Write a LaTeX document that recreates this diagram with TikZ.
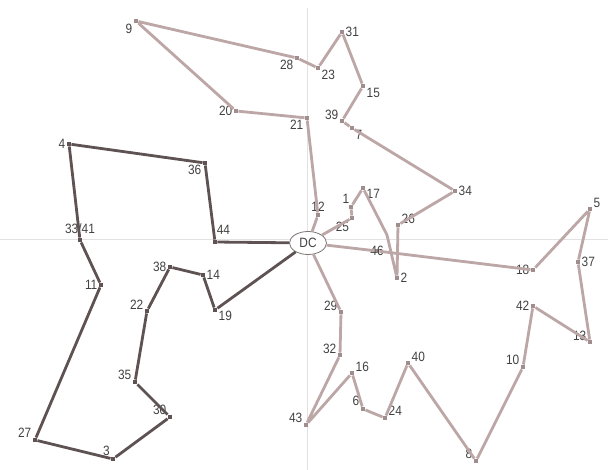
\documentclass[tikz,border=0pt]{standalone}
\usepackage{fontspec}
\setmainfont{Liberation Sans}
\newfontfamily\lblfont{Liberation Sans}[FakeStretch=0.88]
\usetikzlibrary{shapes.geometric}
\definecolor{lightc}{RGB}{188,166,166}
\definecolor{darkc}{RGB}{94,82,82}
\definecolor{axisc}{RGB}{226,226,226}
\definecolor{textc}{RGB}{66,66,66}
\tikzset{
  stopl/.style = {rectangle, fill=lightc!85!black, minimum size=4.5pt, inner sep=0pt},
  stopd/.style = {rectangle, fill=darkc, minimum size=4.5pt, inner sep=0pt},
  lbl/.style   = {font=\lblfont\fontsize{13.5}{14}\selectfont, text=textc, inner sep=1pt},
  depot/.style = {ellipse, draw=darkc!80, thick, fill=white, minimum width=37pt,
                  minimum height=23pt, inner sep=0pt, font=\lblfont\fontsize{13.5}{14}\selectfont, text=textc},
  lroute/.style = {draw=lightc, line width=2.8pt, line join=round},
  droute/.style = {draw=darkc, line width=2.8pt, line join=round},
  axis/.style  = {draw=axisc, line width=1pt},
}

\begin{document}
\begin{tikzpicture}[x=1pt, y=-1pt]
\useasboundingbox (0,0) rectangle (608,470);

% ---- axes ----
\coordinate (ytop) at (307,8);
\coordinate (ybot) at (307,470);
\coordinate (xl) at (0,240);
\coordinate (xr) at (608,240);
\draw[axis] (ytop) -- (ybot);
\draw[axis] (xl) -- (xr);

% ---- depot ----
\node[depot] (dc) at (308,243) {DC};

% ---- light stops, upper loop and lower right loop ----
\foreach \n/\x/\y/\a in {12/318/215/90, 21/307/118/205, 20/236/111/180, 9/136/21/215,
    28/297/58/208, 23/318/68/-20, 31/342/32/0, 15/363/86/-15, 39/342/121/175,
    7/352/128/-20, 34/455/191/0, 26/398/225/10, 2/397/278/0, 17/363/188/-5,
    1/351/207/105, 25/352/218/235, 18/533/270/180, 5/590/209/15, 37/578/262/0,
    13/590/342/165, 42/533/306/180, 10/523/367/158, 8/476/461/148, 40/408/363/5,
    24/385/418/20, 6/363/409/145, 16/352/373/8, 43/306/425/160, 32/340/355/170,
    29/341/312/170}
  { \node[stopl, label={[lbl]\a:\n}] (s\n) at (\x,\y) {}; }
\node[stopl, label={[lbl]center:46}] (s46) at (377,251) {};
\coordinate (bend) at (387,235);

% ---- dark stops, left loop ----
\foreach \n/\x/\y/\a in {36/205/163/190, 4/69/144/180, 11/101/285/180,
    27/35/440/145, 3/113/459/130, 30/170/417/155, 35/135/382/150, 22/147/311/170,
    38/170/267/180, 14/203/275/0, 19/215/310/-8}
  { \node[stopd, label={[lbl]\a:\n}] (s\n) at (\x,\y) {}; }
\node[stopd, label={[lbl, label distance=4pt]85:44}] (s44) at (215,242) {};
\node[stopd, label={[lbl, label distance=3pt]90:33/41}] (s33) at (80,240) {};

% ---- routes ----
\draw[lroute] (dc) -- (s25) -- (s1) -- (s17) -- (bend) -- (s2) -- (s26) -- (s34)
  -- (s7) -- (s39) -- (s15) -- (s31) -- (s23) -- (s28) -- (s9) -- (s20) -- (s21)
  -- (s12) -- (dc);
\draw[lroute] (dc) -- (s46) -- (s18) -- (s5) -- (s37) -- (s13) -- (s42) -- (s10)
  -- (s8) -- (s40) -- (s24) -- (s6) -- (s16) -- (s43) -- (s32) -- (s29) -- (dc);
\draw[droute] (dc) -- (s44) -- (s36) -- (s4) -- (s33) -- (s11) -- (s27) -- (s3)
  -- (s30) -- (s35) -- (s22) -- (s38) -- (s14) -- (s19) -- (dc);

\end{tikzpicture}
\end{document}
